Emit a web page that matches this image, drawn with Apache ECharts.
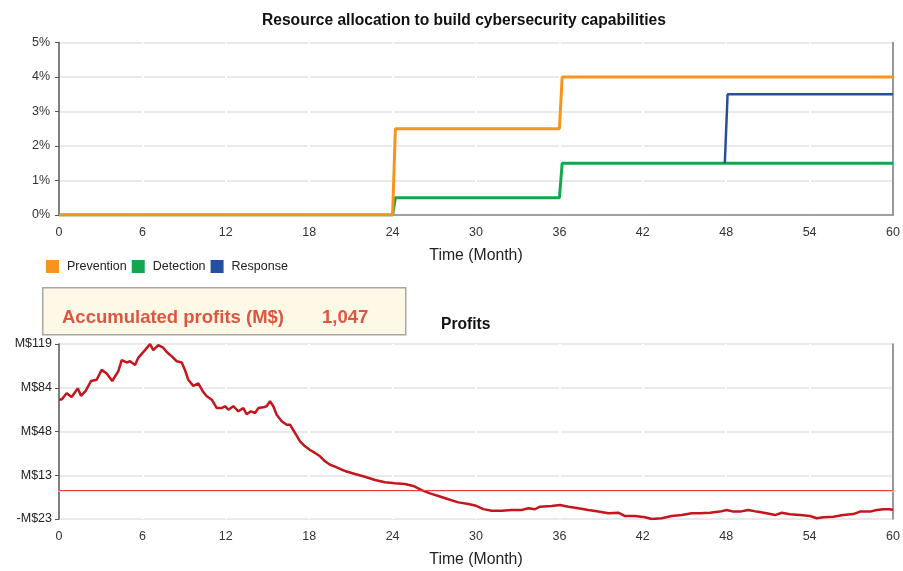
<!DOCTYPE html>
<html>
<head>
<meta charset="utf-8">
<script src="https://cdn.jsdelivr.net/npm/echarts@6/dist/echarts.min.js"></script>
<style>
html,body{margin:0;padding:0;background:#fff;}
#chart{width:903px;height:571px;}
</style>
</head>
<body>
<div id="chart"></div>
<script>
// ---- Data ----
var monthTicks = [0, 6, 12, 18, 24, 30, 36, 42, 48, 54, 60];
var allocTickLabels = ['0%', '1%', '2%', '3%', '4%', '5%'];
var profitTickLabels = ['-M$23', 'M$13', 'M$48', 'M$84', 'M$119'];

var preventionMonths = [0, 24, 24.2, 36, 36.2, 60];
var preventionValues = [0, 0, 2.5, 2.5, 4, 4];
var detectionMonths = [0, 24, 24.2, 36, 36.2, 60];
var detectionValues = [0, 0, 0.5, 0.5, 1.5, 1.5];
var responseMonths = [47.9, 48.1, 60];
var responseValues = [1.5, 3.5, 3.5];

var profitMonths = [0, 0.19, 0.55, 0.91, 1.35, 1.58, 1.92, 2.3, 2.71, 3.07, 3.43, 3.83, 4.27, 4.51, 4.87, 5.11, 5.47, 5.71, 6.19, 6.55, 6.78, 7.14, 7.5, 7.75, 8.11, 8.47, 8.83, 9.06, 9.3, 9.66, 10.02, 10.38, 10.63, 10.99, 11.35, 11.71, 11.94, 12.18, 12.54, 12.9, 13.26, 13.5, 13.81, 14.1, 14.34, 14.7, 14.94, 15.18, 15.42, 15.66, 16.02, 16.38, 16.62, 16.98, 17.34, 17.7, 18.06, 18.42, 18.78, 19.14, 19.5, 19.86, 20.34, 20.58, 21.29, 22.01, 22.73, 23.45, 24.17, 24.89, 25.49, 26.09, 26.69, 27.29, 28.01, 28.73, 29.45, 29.93, 30.53, 31.13, 31.85, 32.57, 33.29, 33.76, 34.24, 34.6, 35.45, 36.04, 36.64, 37.36, 38.08, 38.8, 39.52, 40.24, 40.72, 41.44, 42.16, 42.64, 43.36, 44.08, 44.8, 45.52, 46.12, 46.83, 47.55, 48.04, 48.51, 48.99, 49.59, 50.19, 50.91, 51.51, 51.99, 52.59, 53.31, 54.03, 54.51, 54.99, 55.71, 56.42, 57.14, 57.63, 58.35, 58.83, 59.31, 59.78, 60];
var profitValues = [74, 74, 79, 76, 83, 77, 81, 89, 90, 98, 95, 89, 97, 106, 104, 105, 102, 108, 114, 119, 114, 118, 116, 112.5, 109, 105, 104, 98, 90, 85, 87, 80, 76.6, 73.8, 67, 67, 68.5, 65.7, 68.5, 64.4, 67, 62, 64.4, 63, 67, 67.6, 68.5, 72.5, 68.5, 61.6, 56.3, 53.5, 53.5, 46.8, 40, 36, 33, 30.6, 27.9, 23.8, 21, 19.5, 17, 16, 13.5, 11.3, 8.6, 6.8, 6, 5.4, 3.8, 0.5, -2.2, -4.3, -7, -9.5, -10.8, -12, -15, -16.3, -16.3, -15.7, -15.7, -14.3, -15.1, -13, -12.4, -11.6, -13, -14.3, -15.7, -17, -18.4, -17.9, -20.6, -20.6, -21.6, -23, -22.4, -20.6, -19.8, -18.4, -18.4, -17.9, -17, -15.7, -17, -17, -15.7, -17, -18.4, -19.8, -17.9, -19.2, -19.8, -20.6, -22.4, -21.6, -21.1, -19.8, -19, -17, -17, -15.7, -15.1, -15.1, -15.7];

var accumulatedProfit = '1,047';

function pairs(xs, ys) { return xs.map(function (x, i) { return [x, ys[i]]; }); }

var FONT = '"Liberation Sans", Arial, sans-serif';
var chart = echarts.init(document.getElementById('chart'));

function monthAxis(gridIndex, lineColor) {
  return {
    type: 'value', gridIndex: gridIndex, min: 0, max: 60, interval: 6,
    name: 'Time (Month)', nameLocation: 'middle', nameGap: 33,
    nameTextStyle: { fontFamily: FONT, fontSize: 15.8, color: '#222' },
    axisLine: { show: true, lineStyle: { color: lineColor, width: 1.5 } },
    axisTick: { show: false },
    axisLabel: { fontFamily: FONT, fontSize: 12.5, color: '#333', margin: 11 },
    splitLine: { show: true, lineStyle: { color: '#ffffff', width: 2 } }
  };
}

chart.setOption({
  animation: false,
  textStyle: { fontFamily: FONT },
  title: [
    { text: 'Resource allocation to build cybersecurity capabilities', left: 257, top: 8,
      textStyle: { fontFamily: FONT, fontSize: 15.6, fontWeight: 'bold', color: '#111' } },
    { text: 'Profits', left: 436, top: 312,
      textStyle: { fontFamily: FONT, fontSize: 15.6, fontWeight: 'bold', color: '#111' } }
  ],
  legend: {
    data: ['Prevention', 'Detection', 'Response'],
    left: 41, top: 255, icon: 'rect', itemWidth: 13, itemHeight: 13, itemGap: 5,
    textStyle: { fontFamily: FONT, fontSize: 12.5, color: '#222', padding: [0, 0, 0, 3] }
  },
  grid: [
    { left: 59, right: 10, top: 42.5, height: 172.5 },
    { left: 59, right: 10, top: 344, height: 175 }
  ],
  xAxis: [monthAxis(0, '#888'), monthAxis(1, '#d6d6d6')],
  yAxis: [
    { type: 'value', gridIndex: 0, min: 0, max: 5, interval: 1,
      axisLine: { show: true, lineStyle: { color: '#555', width: 1.5 } },
      axisTick: { show: true, length: 4, lineStyle: { color: '#555' } },
      axisLabel: { fontFamily: FONT, fontSize: 12.5, color: '#333', margin: 9,
        formatter: function (v) { return allocTickLabels[Math.round(v)]; } },
      splitLine: { show: true, lineStyle: { color: '#e2e2e2', width: 1.5 } } },
    { type: 'value', gridIndex: 0, min: 0, max: 5, position: 'right',
      axisLine: { show: true, lineStyle: { color: '#777', width: 1.5 } },
      axisTick: { show: false }, axisLabel: { show: false }, splitLine: { show: false } },
    { type: 'category', gridIndex: 1, data: profitTickLabels, boundaryGap: false,
      axisLine: { show: true, lineStyle: { color: '#555', width: 1.5 } },
      axisTick: { show: true, length: 4, lineStyle: { color: '#555' } },
      axisLabel: { fontFamily: FONT, fontSize: 12.5, color: '#222', margin: 7 },
      splitLine: { show: true, lineStyle: { color: '#e2e2e2', width: 1.5 } } },
    { type: 'value', gridIndex: 1, min: -23, max: 119, position: 'right',
      axisLine: { show: true, lineStyle: { color: '#777', width: 1.5 } },
      axisTick: { show: false }, axisLabel: { show: false }, splitLine: { show: false } }
  ],
  series: [
    { name: 'Detection', type: 'line', xAxisIndex: 0, yAxisIndex: 0, showSymbol: false,
      data: pairs(detectionMonths, detectionValues), color: '#14a54e',
      lineStyle: { width: 3, color: '#14a54e' } },
    { name: 'Response', type: 'line', xAxisIndex: 0, yAxisIndex: 0, showSymbol: false,
      data: pairs(responseMonths, responseValues), color: '#24519d',
      lineStyle: { width: 2.5, color: '#24519d' } },
    { name: 'Prevention', type: 'line', xAxisIndex: 0, yAxisIndex: 0, showSymbol: false,
      data: pairs(preventionMonths, preventionValues), color: '#f7941f',
      lineStyle: { width: 3, color: '#f7941f' } },
    { name: 'Profits', type: 'line', xAxisIndex: 1, yAxisIndex: 3, showSymbol: false,
      data: pairs(profitMonths, profitValues),
      lineStyle: { width: 2.5, color: '#c4161c' },
      markLine: { silent: true, symbol: 'none', label: { show: false },
        lineStyle: { color: '#ee3b3b', width: 1, type: 'solid' },
        data: [{ yAxis: 0 }] } }
  ],
  graphic: [
    { type: 'rect', left: 42, top: 287, shape: { width: 363, height: 47 },
      style: { fill: '#fdf9e6', stroke: '#a8a8a8', lineWidth: 1.5 } },
    { type: 'text', left: 62, top: 308,
      style: { text: 'Accumulated profits (M$)', fill: '#e0553f', font: 'bold 18.5px ' + FONT } },
    { type: 'text', left: 322, top: 308,
      style: { text: accumulatedProfit, fill: '#e0553f', font: 'bold 18.5px ' + FONT } }
  ]
});
</script>
</body>
</html>
